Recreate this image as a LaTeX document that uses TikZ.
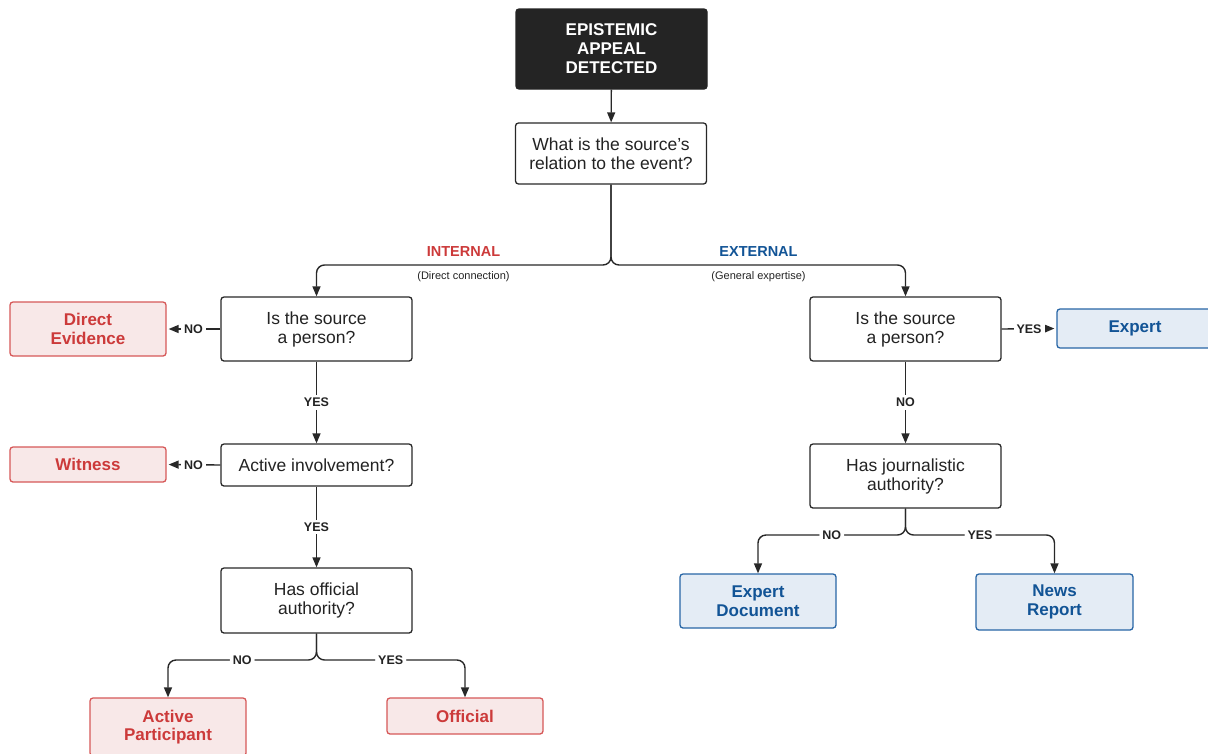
\documentclass[tikz,border=0pt]{standalone}
\usepackage{fontspec}
\setmainfont{Liberation Sans}
\usetikzlibrary{arrows.meta}
\definecolor{redtxt}{RGB}{204,58,58}
\definecolor{redfill}{RGB}{248,232,232}
\definecolor{reddraw}{RGB}{214,88,88}
\definecolor{bluetxt}{RGB}{18,84,150}
\definecolor{bluefill}{RGB}{228,236,245}
\definecolor{bluedraw}{RGB}{40,102,166}
\definecolor{darkbox}{RGB}{36,36,36}
\definecolor{linec}{RGB}{40,40,40}
\definecolor{txt}{RGB}{35,35,35}
\begin{document}
\begin{tikzpicture}[x=1pt,y=-1pt,
  base/.style={line width=1.3pt, rounded corners=3pt, align=center, inner sep=0pt, minimum width=191pt},
  qbox/.style={base, draw=linec, fill=white, text=txt, font=\fontsize{17.5}{19}\selectfont},
  startbox/.style={base, draw=darkbox, fill=darkbox, text=white, font=\bfseries\fontsize{17}{19}\selectfont},
  redbox/.style={base, minimum width=156pt, draw=reddraw, fill=redfill, text=redtxt, font=\bfseries\fontsize{17}{18.5}\selectfont},
  bluebox/.style={base, minimum width=156pt, draw=bluedraw, fill=bluefill, text=bluetxt, font=\bfseries\fontsize{17}{18.5}\selectfont},
  conn/.style={draw=linec, line width=1.4pt, -{Triangle[length=10pt,width=8pt]}},
  lbl/.style={fill=white, text=txt, inner sep=3pt, font=\bfseries\fontsize{12.5}{14}\selectfont},
  branchred/.style={text=redtxt, font=\bfseries\fontsize{14.5}{16}\selectfont},
  branchblue/.style={text=bluetxt, font=\bfseries\fontsize{14.5}{16}\selectfont},
  note/.style={text=txt, font=\fontsize{11}{13}\selectfont}]
\useasboundingbox (0,0) rectangle (1208,753);

% nodes
\node[startbox, minimum height=80pt] (top) at (611.5,49) {EPISTEMIC\\APPEAL\\DETECTED};
\node[qbox, minimum height=61pt] (q1) at (611,153.5) {What is the source’s\\relation to the event?};

\node[qbox, minimum height=64pt] (q2l) at (316.5,329) {Is the source\\a person?};
\node[redbox, minimum height=54pt] (de) at (88,329) {Direct\\Evidence};
\node[qbox, minimum height=42pt] (q3l) at (316.5,465) {Active involvement?};
\node[redbox, minimum height=35pt] (wit) at (88,464.5) {Witness};
\node[qbox, minimum height=65pt] (q4l) at (316.5,600.5) {Has official\\authority?};
\node[redbox, minimum height=58pt] (ap) at (168,727) {Active\\Participant};
\node[redbox, minimum height=36pt] (off) at (465,716) {Official};

\node[qbox, minimum height=64pt] (q2r) at (905.5,329) {Is the source\\a person?};
\node[bluebox, minimum height=39pt] (exp) at (1135,328.5) {Expert};
\node[qbox, minimum height=64pt] (q3r) at (905.5,476) {Has journalistic\\authority?};
\node[bluebox, minimum height=54pt] (ed) at (758,601) {Expert\\Document};
\node[bluebox, minimum height=56pt, minimum width=157pt] (nr) at (1054.5,602) {News\\Report};

% branch labels
\node[branchred] (lint) at (463.5,252) {INTERNAL};
\node[note] (lintn) at (463.5,277) {(Direct connection)};
\node[branchblue] (lext) at (758.5,252) {EXTERNAL};
\node[note] (lextn) at (758.5,277) {(General expertise)};

% connectors
\coordinate (f1) at (611,265);
\coordinate (f4) at (316.5,660);
\coordinate (f3) at (905.5,535);

\draw[conn] (top) -- (q1);
\draw[conn, rounded corners=8pt] (q1.south) -- (f1) -| (q2l.north);
\draw[conn, rounded corners=8pt] (q1.south) -- (f1) -| (q2r.north);

\draw[conn, shorten >=2pt] (q2l.west) -- node[lbl]{NO} (de.east);
\draw[conn] (q2l.south) -- node[lbl]{YES} (q3l.north);
\draw[conn, shorten >=2pt] (q3l.west) -- node[lbl]{NO} (wit.east);
\draw[conn] (q3l.south) -- node[lbl]{YES} (q4l.north);
\draw[conn, rounded corners=8pt] (q4l.south) -- (f4) -| node[lbl, pos=0.25]{NO} (ap.north);
\draw[conn, rounded corners=8pt] (q4l.south) -- (f4) -| node[lbl, pos=0.25]{YES} (off.north);

\draw[conn, shorten >=2pt] (q2r.east) -- node[lbl]{YES} (exp.west);
\draw[conn] (q2r.south) -- node[lbl]{NO} (q3r.north);
\draw[conn, rounded corners=8pt] (q3r.south) -- (f3) -| node[lbl, pos=0.25]{NO} (ed.north);
\draw[conn, rounded corners=8pt] (q3r.south) -- (f3) -| node[lbl, pos=0.25]{YES} (nr.north);
\end{tikzpicture}
\end{document}
